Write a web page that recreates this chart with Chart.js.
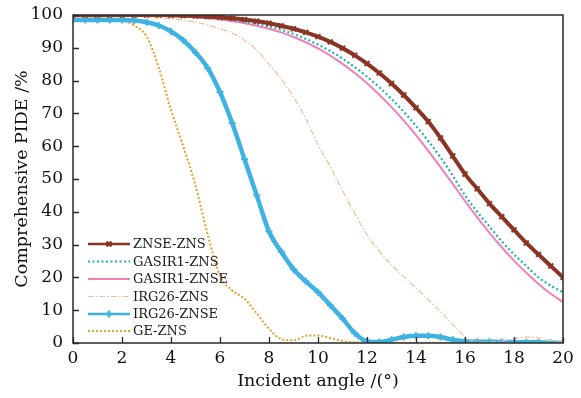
<!DOCTYPE html>
<html>
<head>
<meta charset="utf-8">
<script src="https://cdn.jsdelivr.net/npm/chart.js@4.4.1/dist/chart.umd.min.js"></script>
<style>
  html, body { margin: 0; padding: 0; background: #fff; }
</style>
</head>
<body>
<canvas id="chartPide" width="581" height="398"></canvas>
<script>
// sudut datang (derajat)
const angles = [0, 0.5, 1, 1.5, 2, 2.5, 3, 3.5, 4, 4.5, 5, 5.5, 6, 6.5, 7, 7.5, 8, 8.5, 9, 9.5,
  10, 10.5, 11, 11.5, 12, 12.5, 13, 13.5, 14, 14.5, 15, 15.5, 16, 16.5, 17, 17.5, 18, 18.5, 19, 19.5, 20];

// nilai PIDE (%) tiap pasangan material
const znseZns = [100, 100, 100, 100, 100, 100, 100, 100, 99.9, 99.8, 99.7, 99.5, 99.3, 99, 98.6, 98.1, 97.5, 96.7, 95.8, 94.7,
  93.4, 91.8, 89.9, 87.7, 85.2, 82.3, 79.1, 75.6, 71.7, 67.5, 62.5, 57, 51.5, 47, 42.5, 38.5, 34.5, 30.5, 27, 23.5, 20];
const gasir1Zns = [100, 100, 100, 100, 100, 100, 100, 99.9, 99.9, 99.7, 99.5, 99.2, 98.9, 98.5, 98, 97.3, 96.5, 95.5, 94.2, 92.7,
  91, 89, 86.7, 84.1, 81.2, 78, 74.4, 70.5, 66.2, 61.6, 56.6, 51, 45, 40, 35.5, 31, 27, 23.5, 20, 17.5, 15.5];
const gasir1Znse = [100, 100, 100, 100, 100, 100, 100, 99.9, 99.8, 99.6, 99.3, 99, 98.6, 98.1, 97.5, 96.7, 95.8, 94.7, 93.3, 91.7,
  89.8, 87.6, 85.1, 82.3, 79.2, 75.7, 71.9, 67.8, 63.4, 58.6, 53.6, 48.5, 43.3, 38.3, 33.6, 29.2, 25.1, 21.4, 18, 15, 12.5];
const irg26Zns = [100, 100, 100, 99.9, 99.8, 99.6, 99.4, 99.1, 98.8, 98.4, 97.8, 97, 95.8, 94.5, 92.3, 89.3, 85, 80.5, 75, 68.5,
  60.4, 53.8, 46.5, 39.5, 33, 28, 23.8, 20.2, 16.8, 13.2, 9.6, 5.6, 2, 0.3, 0.2, 0.6, 1.3, 1.8, 1.6, 0.8, 0.3];
const irg26Znse = [98.5, 98.5, 98.5, 98.5, 98.5, 98.3, 97.8, 96.8, 95, 92.3, 88.6, 83.8, 76.5, 67, 56, 45, 34, 27.8, 22.5, 18.8,
  15.5, 11.5, 7.5, 3, 0.5, 0.3, 1, 1.8, 2.2, 2.2, 1.8, 1, 0.5, 0.4, 0.4, 0.3, 0.3, 0.2, 0.2, 0.1, 0.1];
const geZns = [99, 99, 99, 98.8, 98.3, 96.8, 93.5, 84, 71, 60, 48, 33, 20.5, 16, 13.5, 9, 4.3, 1.2, 0.8, 2.2,
  2.3, 1.5, 0.6, 0.2, 0.2, 0.1, 0.1, 0.1, 0.1, 0.1, 0.1, 0.1, 0.1, 0.1, 0.1, 0.1, 0.1, 0.1, 0.1, 0.1, 0.1];

const seriesNames = ['ZNSE-ZNS', 'GASIR1-ZNS', 'GASIR1-ZNSE', 'IRG26-ZNS', 'IRG26-ZNSE', 'GE-ZNS'];
const xTicks = [0, 2, 4, 6, 8, 10, 12, 14, 16, 18, 20];
const yTicks = [0, 10, 20, 30, 40, 50, 60, 70, 80, 90, 100];

const serif = "'DejaVu Serif', serif";

function toPoints(values) {
  return angles.map((a, i) => ({ x: a, y: values[i] }));
}

function makeSet(label, values, color, width, dash, marker, radius) {
  return {
    label: label,
    data: toPoints(values),
    borderColor: color,
    backgroundColor: color,
    borderWidth: width,
    borderDash: dash,
    pointStyle: marker || 'circle',
    pointRadius: marker ? radius : 0,
    pointBorderWidth: 2,
    pointBorderColor: color,
    cubicInterpolationMode: 'monotone',
    fill: false
  };
}

const datasets = [
  makeSet(seriesNames[0], znseZns, 'rgb(140,52,36)', 4, [], 'crossRot', 3.5),
  makeSet(seriesNames[1], gasir1Zns, 'rgb(30,178,170)', 2.2, [2, 2.5]),
  makeSet(seriesNames[2], gasir1Znse, 'rgb(240,128,186)', 2, []),
  makeSet(seriesNames[3], irg26Zns, 'rgb(242,190,150)', 1.2, [6, 2, 1.5, 2]),
  makeSet(seriesNames[4], irg26Znse, 'rgb(62,178,225)', 4.5, [], 'cross', 3.5),
  makeSet(seriesNames[5], geZns, 'rgb(228,160,40)', 2, [2, 2])
];

// bingkai + tick ke dalam
const framePlugin = {
  id: 'frame',
  afterDatasetsDraw(chart) {
    const { ctx, chartArea: a, scales } = chart;
    ctx.save();
    ctx.strokeStyle = '#2a2a2a';
    ctx.lineWidth = 1.5;
    ctx.strokeRect(a.left, a.top, a.right - a.left, a.bottom - a.top);
    ctx.lineWidth = 1.3;
    ctx.beginPath();
    xTicks.forEach(v => {
      const px = Math.round(scales.x.getPixelForValue(v)) + 0.5;
      ctx.moveTo(px, a.bottom);
      ctx.lineTo(px, a.bottom - 6);
    });
    yTicks.forEach(v => {
      const py = Math.round(scales.y.getPixelForValue(v)) + 0.5;
      ctx.moveTo(a.left, py);
      ctx.lineTo(a.left + 6, py);
    });
    ctx.stroke();
    ctx.restore();
  }
};

// legenda di dalam area grafik (kiri bawah)
const legendPlugin = {
  id: 'innerLegend',
  afterDraw(chart) {
    const ctx = chart.ctx;
    const rowY = [244, 261.5, 279, 296.5, 314, 331];
    const x0 = 88, x1 = 130;
    ctx.save();
    chart.data.datasets.forEach((ds, i) => {
      const y = rowY[i];
      ctx.strokeStyle = ds.borderColor;
      ctx.lineWidth = Math.min(ds.borderWidth, 2.5);
      ctx.setLineDash(ds.borderDash);
      ctx.beginPath();
      ctx.moveTo(x0, y);
      ctx.lineTo(x1, y);
      ctx.stroke();
      ctx.setLineDash([]);
      if (ds.pointRadius > 0) {
        Chart.helpers.drawPoint(ctx, {
          pointStyle: ds.pointStyle,
          radius: 3.5,
          borderWidth: 1.5
        }, (x0 + x1) / 2, y);
      }
      ctx.fillStyle = '#1a1a1a';
      ctx.font = "13px " + serif;
      ctx.textBaseline = 'middle';
      ctx.textAlign = 'left';
      ctx.fillText(ds.label, 133, y + 1);
    });
    ctx.restore();
  }
};

const ctx = document.getElementById('chartPide').getContext('2d');
const myChart = new Chart(ctx, {
  type: 'line',
  data: { datasets: datasets },
  options: {
    responsive: false,
    animation: false,
    devicePixelRatio: 1,
    layout: { padding: { top: 15, right: 18, left: 0, bottom: 0 } },
    plugins: {
      legend: { display: false },
      tooltip: { enabled: false }
    },
    scales: {
      x: {
        type: 'linear',
        min: 0,
        max: 20,
        afterBuildTicks: s => { s.ticks = xTicks.map(v => ({ value: v })); },
        afterFit: s => { s.height = 55; s.paddingLeft = 0; s.paddingRight = 0; },
        grid: { display: false, drawTicks: false },
        border: { display: false },
        ticks: { color: '#111', font: { family: serif, size: 17 }, padding: 5, maxRotation: 0 },
        title: { display: true, text: 'Incident angle /(°)', color: '#111',
          font: { family: serif, size: 17.5 }, padding: { top: 0, bottom: 6 } }
      },
      y: {
        min: 0,
        max: 100,
        afterBuildTicks: s => { s.ticks = yTicks.map(v => ({ value: v })); },
        afterFit: s => { s.width = 73; s.paddingTop = 0; s.paddingBottom = 0; },
        grid: { display: false, drawTicks: false },
        border: { display: false },
        ticks: { color: '#111', font: { family: serif, size: 17 }, padding: 10 },
        title: { display: true, text: 'Comprehensive PIDE /%', color: '#111',
          font: { family: serif, size: 17.5 }, padding: { top: 12, bottom: 0 } }
      }
    }
  },
  plugins: [framePlugin, legendPlugin]
});
</script>
</body>
</html>
